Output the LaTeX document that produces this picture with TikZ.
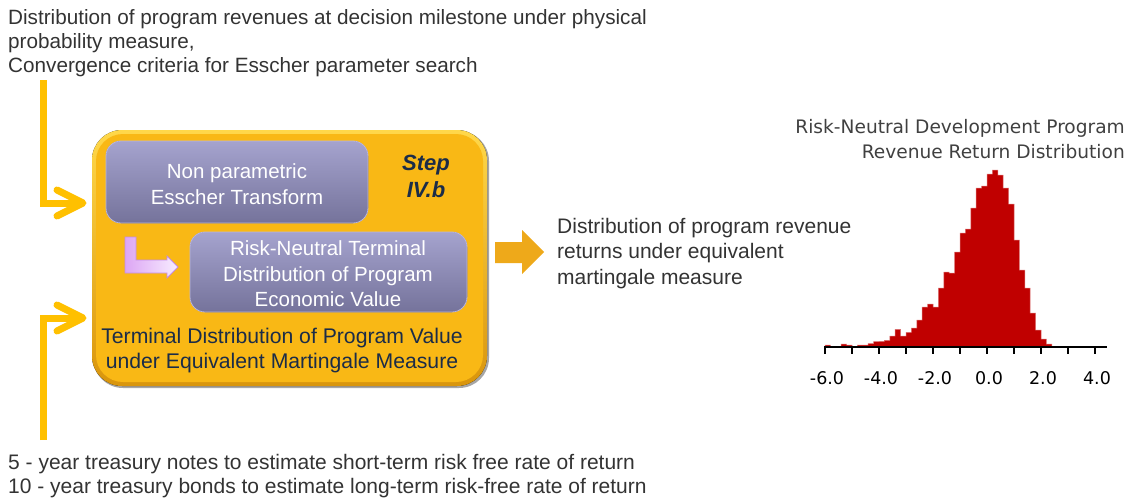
\documentclass[tikz,border=0pt]{standalone}
\usepackage{fontspec}
\setmainfont{Liberation Sans}
\newfontfamily\djv{DejaVu Sans}
\usetikzlibrary{calc}
\definecolor{txtgray}{HTML}{333333}
\definecolor{titlegray}{HTML}{404040}
\definecolor{yline}{HTML}{FFC000}
\definecolor{bigarrow}{HTML}{EEA91A}
\definecolor{orangemain}{HTML}{F9B815}
\definecolor{orangetop}{HTML}{FFD84A}
\definecolor{orangebot}{HTML}{D9950C}
\definecolor{purptop}{HTML}{A5A3CE}
\definecolor{purpbot}{HTML}{75739B}
\definecolor{purpedge}{HTML}{B9B6DC}
\definecolor{navy}{HTML}{1B2C48}
\definecolor{pinkl}{HTML}{DDA6F4}
\definecolor{pinkr}{HTML}{F7EDFF}
\definecolor{pinkedge}{HTML}{C58CE6}
\definecolor{histred}{HTML}{C00000}
\begin{document}
\begin{tikzpicture}[x=1pt,y=-1pt,
  plain/.style={inner sep=0pt, text=txtgray, align=left, font=\fontsize{20.7}{24}\selectfont},
  pbox/.style={rounded corners=15pt, top color=purptop, bottom color=purpbot, draw=purpedge, line width=0.8pt},
  ptext/.style={inner sep=0pt, text=white, align=center, font=\fontsize{20.5}{25.5}\selectfont},
  yarrow/.style={draw=yline, line width=7pt, line join=miter},
  ychev/.style={draw=yline, line width=7pt, line cap=round, line join=round},
  ticklab/.style={inner sep=0pt, text=black, font=\djv\fontsize{17.5}{17.5}\selectfont}
]
\useasboundingbox (0,0) rectangle (1139,499);

% ---- top input text and arrow
\node[plain, anchor=north west] (toptext) at (8,9.5) {Distribution of program revenues at decision milestone under physical\\probability measure,\\Convergence criteria for Esscher parameter search};

% ---- orange box
\fill[black!35, rounded corners=30pt] (93,131) rectangle (489,388);
\fill[rounded corners=30pt, top color=orangetop, bottom color=orangebot] (92,130) rectangle (487,386);
\fill[orangemain, rounded corners=27pt] (96,134) rectangle (483,382);
\node[inner sep=0pt, minimum width=395pt, minimum height=256pt] (box) at (289.5,258) {};

% ---- inner boxes
\fill[pbox] (106,141) rectangle (368,223);
\node[ptext] (esscher) at (237,184) {Non parametric\\Esscher Transform};
\fill[pbox] (190,232) rectangle (467,312);
\node[ptext] (rnt) at (328,274) {Risk-Neutral Terminal\\Distribution of Program\\Economic Value};
\node[inner sep=0pt, text=navy, align=center, font=\fontsize{22}{27}\selectfont\bfseries\itshape] (step) at (426,176) {Step\\IV.b};
\node[inner sep=0pt, text=navy, align=center, font=\fontsize{21.2}{25}\selectfont] (tdist) at (282,351) {Terminal Distribution of Program Value\\under Equivalent Martingale Measure};

% ---- pink L arrow
\draw[left color=pinkl, right color=pinkr, draw=pinkedge, line width=0.8pt]
  (125,237) -- (136,237) -- (136,260) -- (167,260) -- (167,256) -- (178,267) -- (167,278) -- (167,273) -- (125,273) -- cycle;

% ---- yellow input arrows
\coordinate (s1) at (43,80);
\coordinate (e1) at (82,203);
\draw[yarrow] (s1) |- (e1);
\draw[ychev] ($(e1)+(-25,-13)$) -- ($(e1)+(1,0)$) -- ($(e1)+(-25,13)$);
\coordinate (s2) at (43,440);
\coordinate (e2) at (82,318);
\draw[yarrow] (s2) |- (e2);
\draw[ychev] ($(e2)+(-25,-13)$) -- ($(e2)+(1,0)$) -- ($(e2)+(-25,13)$);

\node[plain, anchor=north west, font=\fontsize{21}{24}\selectfont] (bottext) at (8,454) {5 - year treasury notes to estimate short-term risk free rate of return\\10 - year treasury bonds to estimate long-term risk-free rate of return};

% ---- big output arrow
\fill[bigarrow] (495,242) -- (522,242) -- (522,230) -- (544,252) -- (522,274) -- (522,263) -- (495,263) -- cycle;
\node[plain, anchor=north west, font=\fontsize{21}{25.5}\selectfont] (outtext) at (557,218) {Distribution of program revenue\\returns under equivalent\\martingale measure};

% ---- histogram
\node[inner sep=0pt, anchor=north east, align=right, text=titlegray, font=\djv\fontsize{18.6}{25}\selectfont] (htitle) at (1125,119) {Risk-Neutral Development Program\\Revenue Return Distribution};
\filldraw[fill=histred, draw=histred!55!white, line width=0.5pt] (825,347)
  foreach \h [count=\k from 0] in {2,0,0,3,2,0,2,2,3.5,5.5,5.7,6.7,11,17.7,11,14.7,19,27,40,43,40,59,75,74,95,114,118,139,159,161,173,177,172,159,143,107,77,59,34,17,8,3}
  { -- ({825+5.4*\k},{347-\h}) -- ({825+5.4*(\k+1)},{347-\h}) } -- (1051.8,347) -- cycle;
\draw[black, line width=2pt] (824,347) -- (1107,347);
\foreach \i in {0,...,10} { \draw[black, line width=1.6pt] ({825+27*\i},347) -- ({825+27*\i},354); }
\foreach \v [count=\j from 0] in {-6.0,-4.0,-2.0,0.0,2.0,4.0} {
  \node[ticklab] (tick\j) at ({827+54*\j},378) {\v};
}
\end{tikzpicture}
\end{document}
